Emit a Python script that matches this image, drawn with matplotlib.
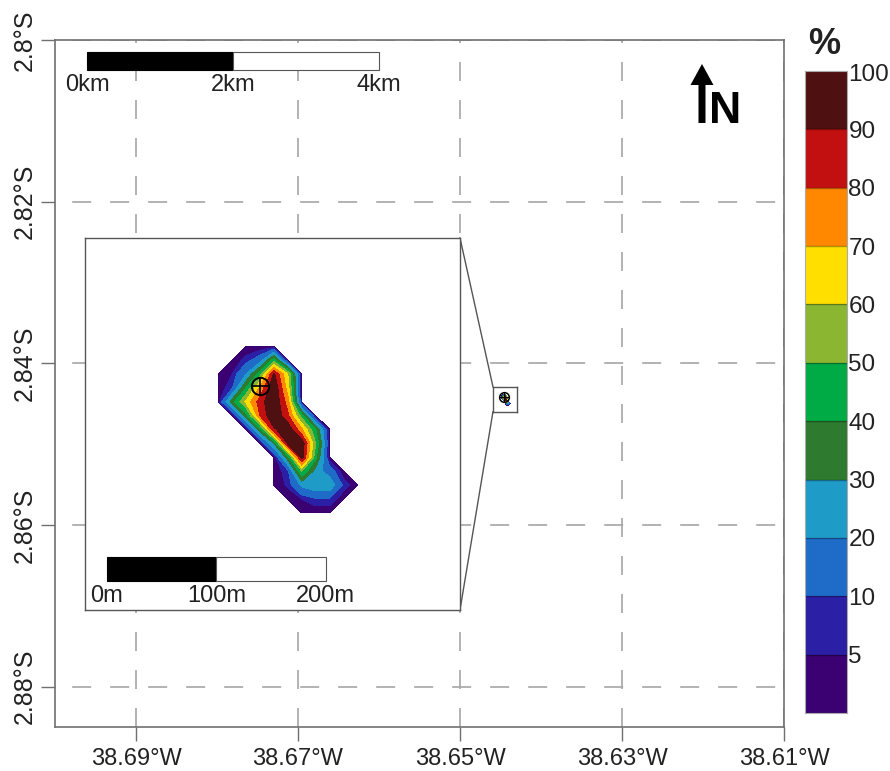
import numpy as np
import matplotlib
matplotlib.use("Agg")
import matplotlib.pyplot as plt
from matplotlib.colors import ListedColormap, BoundaryNorm
from matplotlib.patches import Rectangle

plt.rcParams['font.family'] = ['Liberation Sans', 'DejaVu Sans']

# map ticks
lon_ticks = [-38.69, -38.67, -38.65, -38.63, -38.61]
lon_labels = ['38.69°W', '38.67°W', '38.65°W', '38.63°W', '38.61°W']
lat_ticks = [-2.80, -2.82, -2.84, -2.86, -2.88]
lat_labels = ['2.8°S', '2.82°S', '2.84°S', '2.86°S', '2.88°S']

# concentration grid, metres within the inset (x east, y north)
grid_x = [121.5, 134.3, 147, 159.8, 172.5, 185.3, 198, 210.8, 223.5, 236.3, 249]
grid_y = [88.6, 101.3, 114, 126.7, 139.4, 152.1, 164.8, 177.5, 190.2, 202.9, 215.6, 228.3, 241]
grid_pct = [
    [0, 0, 0, 0, 0, 0, 1, 1, 1, 0, 0],
    [0, 0, 0, 0, 0, 1, 5, 9, 9, 1, 0],
    [0, 0, 0, 0, 1, 6, 22, 28, 27, 8, 1],
    [0, 0, 0, 0, 1, 8, 50, 25, 15, 1, 0],
    [0, 0, 0, 0, 1, 35, 95, 42, 1, 0, 0],
    [0, 0, 0, 1, 30, 92, 98, 50, 1, 0, 0],
    [0, 0, 1, 35, 88, 98, 72, 40, 1, 0, 0],
    [0, 1, 35, 80, 100, 82, 45, 1, 0, 0, 0],
    [1, 35, 62, 85, 100, 75, 1, 0, 0, 0, 0],
    [1, 9, 40, 72, 100, 65, 1, 0, 0, 0, 0],
    [1, 5, 20, 45, 92, 60, 1, 0, 0, 0, 0],
    [0, 1, 7, 15, 45, 1, 0, 0, 0, 0, 0],
    [0, 0, 1, 1, 1, 0, 0, 0, 0, 0, 0],
]
levels = [1, 5, 10, 20, 30, 40, 50, 60, 70, 80, 90, 101]
band_colors = ['#3b0071', '#2b1fa5', '#1f6bc8', '#1f9bc8', '#2e7a2e', '#00ab45',
               '#8ab631', '#ffdf00', '#ff8800', '#c21010', '#4e1010']
cbar_labels = ['5', '10', '20', '30', '40', '50', '60', '70', '80', '90', '100']

source_x, source_y = 160, 204.5

GREY = '#707070'
DARK = '#222222'
FS = 17

fig = plt.figure(figsize=(8.90, 7.71), dpi=100)
ax = fig.add_axes([55/890, 44/771, 729/890, 687/771])
ax.set_xlim(-38.70, -38.61)
ax.set_ylim(-2.885, -2.80)
ax.set_xticks(lon_ticks, lon_labels)
ax.set_yticks(lat_ticks, lat_labels)
ax.tick_params(axis='x', length=10, width=1, color=GREY, pad=5, labelsize=FS, labelcolor=DARK)
ax.tick_params(axis='y', length=10, width=1, color=GREY, pad=3, labelsize=18, labelcolor=DARK)
for t in ax.get_yticklabels():
    t.set_rotation(90)
    t.set_va('center')
ax.grid(True, axis='x', color='#a6a6a6', lw=1.2, linestyle=(0, (11.4, 11.4)))
ax.grid(True, axis='y', color='#a6a6a6', lw=1.2, linestyle=(12.5, (11.4, 11.4)))
ax.set_axisbelow(True)
for s in ax.spines.values():
    s.set_color(GREY)
    s.set_linewidth(1.2)


def scale_bar(a, x0, y0, step, h, labels, dy):
    a.add_patch(Rectangle((x0, y0), step, h, fc='black', ec='black', lw=0.8, zorder=5))
    a.add_patch(Rectangle((x0 + step, y0), step, h, fc='white', ec='#555555', lw=0.8, zorder=5))
    for i, lab in enumerate(labels):
        a.text(x0 + i * step, y0 - dy, lab, ha='center', va='center', fontsize=FS,
               color=DARK, zorder=6)


scale_bar(ax, -38.69605, -2.80375, 0.018, 0.00222, ['0km', '2km', '4km'], 0.00185)

cmap = ListedColormap(band_colors)
norm = BoundaryNorm(levels, cmap.N)

# inset
box = [-38.6963, -2.8705, 0.0463, 0.046]
ins = ax.inset_axes(box, transform=ax.transData, zorder=3)
ins.set_xlim(0, 342.5)
ins.set_ylim(0, 340)
ins.set_xticks([])
ins.set_yticks([])
for s in ins.spines.values():
    s.set_color('#555555')
    s.set_linewidth(1)
ins.contourf(grid_x, grid_y, grid_pct, levels=levels, cmap=cmap, norm=norm)
ins.plot(source_x, source_y, 'o', ms=12.5, mfc='none', mec='black', mew=1.4)
ins.plot(source_x, source_y, '+', ms=12.5, color='black', mew=1.2)
scale_bar(ins, 20, 26.5, 100, 22, ['0m', '100m', '200m'], 13.5)

# miniature of the same field at true map scale
mini_box = [-38.64593, -2.8460, 0.00296, 0.0031]
mini = ax.inset_axes(mini_box, transform=ax.transData, zorder=3)
mini.set_xlim(0, 342.5)
mini.set_ylim(0, 340)
mini.set_xticks([])
mini.set_yticks([])
for s in mini.spines.values():
    s.set_color('#555555')
    s.set_linewidth(1)
mini.contourf(grid_x, grid_y, grid_pct, levels=levels, cmap=cmap, norm=norm)
mini.plot(source_x, source_y, 'o', ms=7, mfc='none', mec='black', mew=1.1)
mini.plot(source_x, source_y, '+', ms=7, color='black', mew=0.9)

# connectors from inset to miniature
ax.plot([box[0] + box[2], mini_box[0]], [box[1] + box[3], mini_box[1] + mini_box[3]],
        color='#555555', lw=1, zorder=2.5)
ax.plot([box[0] + box[2], mini_box[0]], [box[1], mini_box[1]],
        color='#555555', lw=1, zorder=2.5)

# north arrow
ax.arrow(0.8875, 0.8792, 0, 0.0859, transform=ax.transAxes, width=7/729, head_width=23/729,
         head_length=21/687, length_includes_head=True, fc='black', ec='none', zorder=4)
ax.text(0.9198, 0.8792, 'N', transform=ax.transAxes, fontsize=32, fontweight='bold',
        ha='center', va='baseline', color='black')

# colour bar
cax = fig.add_axes([805/890, 58/771, 42/890, 642/771])
vals = np.arange(len(band_colors)).reshape(-1, 1)
cax.pcolormesh([0, 1], np.arange(len(band_colors) + 1), vals, cmap=cmap,
               edgecolors='none')
cax.hlines(np.arange(1, len(band_colors)), 0, 1, color='#00000055', lw=1)
cax.set_xlim(0, 1)
cax.set_ylim(0, len(band_colors))
cax.set_xticks([])
cax.yaxis.tick_right()
cax.set_yticks(np.arange(1, len(band_colors) + 1) - np.r_[np.zeros(10), 0.03], cbar_labels)
cax.tick_params(axis='y', length=0, pad=1, labelsize=17.5, labelcolor=DARK)
for s in cax.spines.values():
    s.set_color('#aaaaaa')
    s.set_linewidth(0.8)
fig.text(824/890, 1 - 45/771, '%', fontsize=26, fontweight='bold', ha='center', va='center',
         color=DARK)

fig.savefig('out.png', dpi=100)
